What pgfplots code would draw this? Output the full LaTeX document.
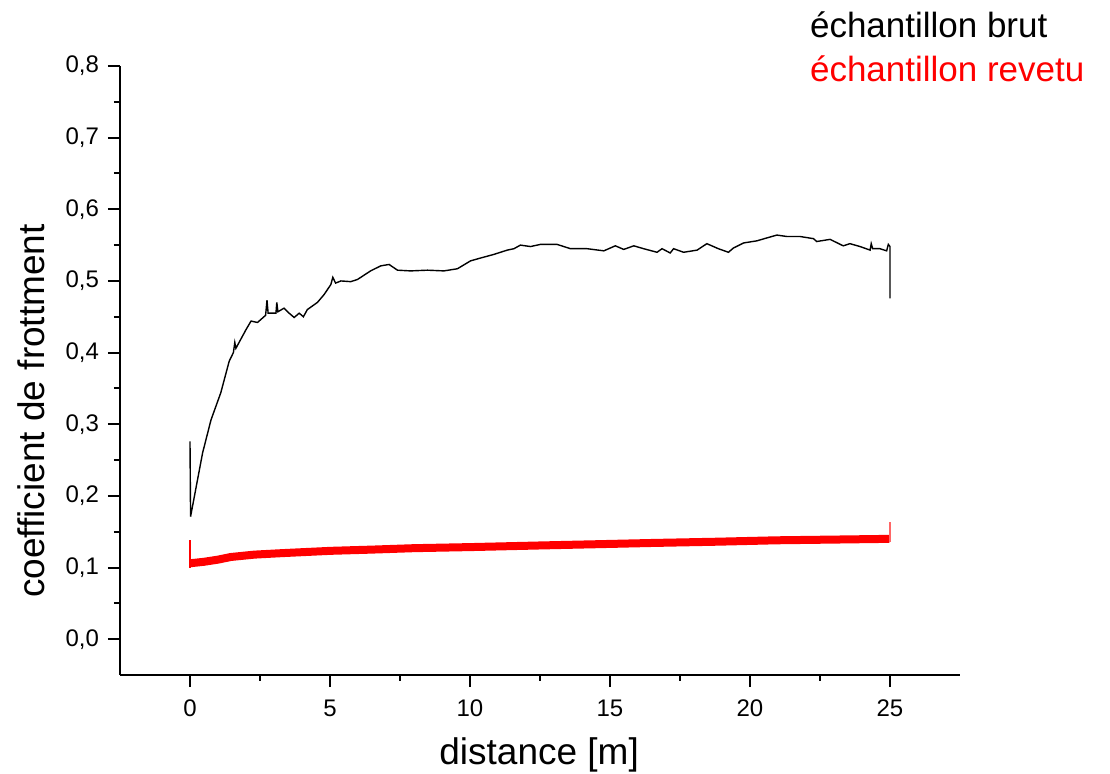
\documentclass[border=0pt]{standalone}
\usepackage{pgfplots}
\usepackage{fontspec}
\setmainfont{Liberation Sans}
\pgfplotsset{compat=1.18}

\begin{document}
\begin{tikzpicture}
\begin{axis}[
    at={(60pt,49.5pt)}, anchor=south west,
    scale only axis,
    width=420pt, height=304.5pt,
    xmin=-2.5, xmax=27.5,
    ymin=-0.05, ymax=0.8,
    axis x line*=bottom,
    axis y line*=left,
    axis line style={line width=1pt},
    every tick/.style={line width=1pt, black},
    tick align=outside,
    major tick length=6pt,
    minor tick length=3pt,
    xtick={0,5,...,25},
    ytick={0,0.1,...,0.8},
    minor x tick num=1,
    minor y tick num=1,
    /pgf/number format/assume math mode=true,
    /pgf/number format/use comma,
    yticklabel style={/pgf/number format/fixed, /pgf/number format/fixed zerofill, /pgf/number format/precision=1},
    ticklabel style={font=\fontsize{12}{14}\selectfont},
    xticklabel style={yshift=-3pt},
    yticklabel style={xshift=-1pt},
    xlabel={distance [m]},
    ylabel={coefficient de frottment},
    label style={font=\fontsize{18.5}{22}\selectfont},
    xlabel style={at={(rel axis cs:0.499,-0.1478)}, anchor=base},
    ylabel style={at={(rel axis cs:-0.106,0.4335)}, anchor=center},
    clip=false,
]
% echantillon brut
\addplot[black, line width=0.7pt] coordinates {
(0,0.276) (0.02,0.171) (0.45,0.26) (0.75,0.306) (1.1,0.344) (1.40,0.388)
(1.55,0.400) (1.60,0.414) (1.64,0.406) (2.0,0.432) (2.18,0.444) (2.41,0.442)
(2.70,0.452) (2.75,0.473) (2.79,0.455) (3.07,0.455) (3.10,0.470) (3.14,0.457)
(3.36,0.462) (3.54,0.455) (3.72,0.449) (3.90,0.455) (4.05,0.450) (4.19,0.460)
(4.55,0.470) (4.79,0.481) (5.03,0.495) (5.10,0.505) (5.20,0.497) (5.39,0.500)
(5.74,0.499) (5.98,0.502) (6.45,0.514) (6.81,0.521) (7.11,0.523) (7.41,0.515)
(7.88,0.514) (8.48,0.515) (9.07,0.514) (9.55,0.517) (10.02,0.528) (10.38,0.532)
(10.85,0.537) (11.33,0.543) (11.57,0.545) (11.80,0.550) (12.16,0.548) (12.52,0.551)
(13.11,0.551) (13.59,0.545) (14.18,0.545) (14.78,0.542) (15.19,0.549) (15.49,0.544)
(15.85,0.549) (16.20,0.545) (16.68,0.540) (16.86,0.545) (17.15,0.539) (17.27,0.545)
(17.63,0.540) (18.11,0.543) (18.46,0.552) (18.87,0.545) (19.23,0.540) (19.41,0.546)
(19.77,0.553) (20.25,0.556) (20.60,0.560) (20.96,0.564) (21.32,0.562) (21.79,0.562)
(22.27,0.559) (22.38,0.555) (22.86,0.558) (23.33,0.549) (23.57,0.552) (23.93,0.548)
(24.29,0.543) (24.33,0.552) (24.38,0.545) (24.64,0.545) (24.88,0.542) (24.94,0.551)
(25.0,0.548) (25.0,0.4755)
};
% echantillon revetu (dense noisy signal, drawn as a band)
\addplot[red, line width=0.6pt] coordinates {(0,0.138) (0,0.100)};
\addplot[red, line width=4pt] coordinates {
(0.02,0.106) (0.5,0.108) (1.0,0.111) (1.46,0.1147) (2.3,0.118) (3.25,0.120)
(5.03,0.1233) (6.5,0.125) (8.0,0.127) (10,0.1285) (12.52,0.1308) (14.5,0.1325)
(16.55,0.1343) (18.8,0.136) (20.96,0.138) (23,0.139) (24.98,0.140)
};
\addplot[red!60, line width=0.6pt] coordinates {(25,0.136) (25,0.163)};
\node[anchor=base west, inner sep=0, font=\fontsize{17.5}{20}\selectfont] at (rel axis cs:0.821,1.046) {échantillon brut};
\node[anchor=base west, inner sep=0, text=red, font=\fontsize{17.5}{20}\selectfont] at (rel axis cs:0.821,0.974) {échantillon revetu};
\end{axis}
\pgfresetboundingbox
\useasboundingbox (0,0) rectangle (555pt,387pt);
\end{tikzpicture}
\end{document}
